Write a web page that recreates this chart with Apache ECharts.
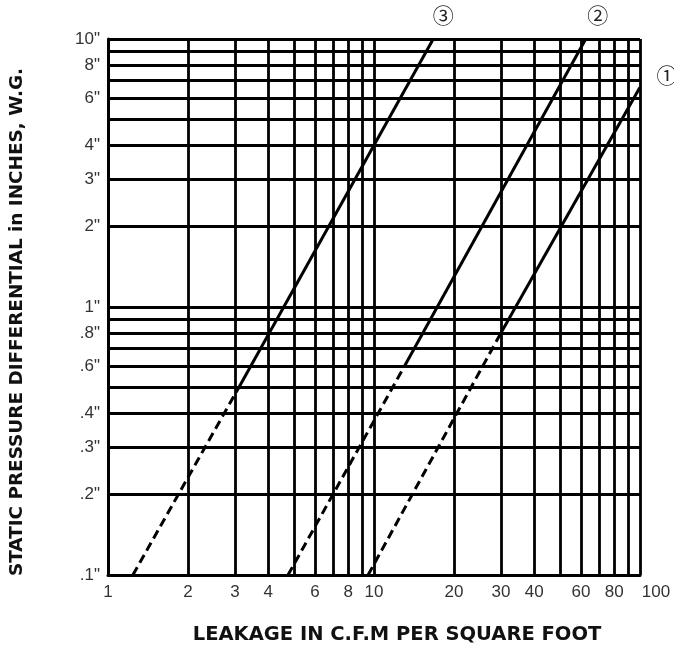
<!DOCTYPE html>
<html>
<head>
<meta charset="utf-8">
<script src="https://cdn.jsdelivr.net/npm/echarts@6/dist/echarts.min.js"></script>
<style>html,body{margin:0;padding:0;background:#fff;}#c{width:674px;height:656px;}</style>
</head>
<body>
<div id="c"></div>
<script>
// Grid / tick values
const xTicks = [1,2,3,4,5,6,7,8,9,10,20,30,40,50,60,70,80,90,100];
const xLabels = [1,2,3,4,6,8,10,20,30,40,60,80,100];
const yTicks = [0.1,0.2,0.3,0.4,0.5,0.6,0.7,0.8,0.9,1,2,3,4,5,6,7,8,9,10];
const yLabels = [0.1,0.2,0.3,0.4,0.6,0.8,1,2,3,4,6,8,10];

// Curves: [leakage cfm/sq ft, static pressure in. w.g.]
const line1Dashed = [[9.5,0.1],[30,0.8]];
const line1Solid  = [[30,0.8],[100,6.6]];
const line2Dashed = [[4.75,0.1],[13,0.6]];
const line2Solid  = [[13,0.6],[62.5,10]];
const line3Dashed = [[1.24,0.1],[3.1,0.5]];
const line3Solid  = [[3.1,0.5],[16.7,10]];
const curveNames = ['①','②','③'];

const chart = echarts.init(document.getElementById('c'));
const gridStyle = {color:'#000', width:2.8};
function mk(data, dashed, endName, off){
  const s = {
    type:'line', data:data, symbol:'none', silent:true,
    lineStyle:{color:'#000', width:3, type: dashed ? [9,5] : 'solid'},
    clip:true, z:5
  };
  if(endName){
    s.endLabel = {show:true, formatter:endName, offset:off, distance:0,
      align:'center', verticalAlign:'middle',
      fontFamily:'Noto Sans CJK SC', fontSize:21, color:'#222'};
  }
  return s;
}
chart.setOption({
  animation:false,
  backgroundColor:'#fff',
  grid:{left:107, right:34, top:39, bottom:81, containLabel:false},
  xAxis:{
    type:'log', logBase:10, min:1, max:100,
    name:'LEAKAGE IN C.F.M PER SQUARE FOOT', nameLocation:'middle', nameGap:50,
    nameTextStyle:{fontFamily:'DejaVu Sans', fontWeight:'bold', fontSize:19.5, color:'#111', padding:[0,0,0,46]},
    axisLine:{show:true, lineStyle:{color:'#000', width:3}},
    axisTick:{show:false, customValues:xTicks},
    splitLine:{show:true, lineStyle:gridStyle},
    axisLabel:{
      customValues:xLabels, color:'#333', fontFamily:'Liberation Sans', fontSize:17, margin:9,
      formatter:function(v){ return v===100 ? '{r|100}' : String(v); },
      rich:{r:{padding:[0,0,0,32], fontFamily:'Liberation Sans', fontSize:17, color:'#333'}}
    }
  },
  yAxis:{
    type:'log', logBase:10, min:0.1, max:10,
    name:'STATIC PRESSURE DIFFERENTIAL in INCHES, W.G.', nameLocation:'middle', nameGap:82,
    nameTextStyle:{fontFamily:'DejaVu Sans', fontWeight:'bold', fontSize:18.4, color:'#111', padding:[0,30,0,0]},
    axisLine:{show:true, lineStyle:{color:'#000', width:3}},
    axisTick:{show:false, customValues:yTicks},
    splitLine:{show:true, lineStyle:gridStyle},
    axisLabel:{
      customValues:yLabels, color:'#333', fontFamily:'Liberation Sans', fontSize:17, margin:8,
      formatter:function(v){ return (v<1 ? String(v).replace('0.','.') : String(v)) + '"'; }
    }
  },
  series:[
    mk(line1Dashed,true), mk(line1Solid,false,curveNames[0],[27,-12]),
    mk(line2Dashed,true), mk(line2Solid,false,curveNames[1],[12,-24]),
    mk(line3Dashed,true), mk(line3Solid,false,curveNames[2],[10,-24])
  ]
});
</script>
</body>
</html>
